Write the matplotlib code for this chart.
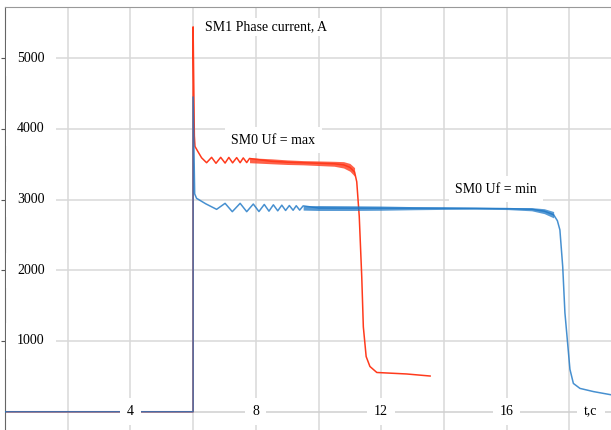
import matplotlib.pyplot as plt

plt.rcParams['font.family'] = ['Liberation Serif', 'DejaVu Serif']

# SM0 Uf = min (blue), time in s, current in A
blue_t = [0, 6.0, 6.0, 6.05, 6.11, 6.4, 6.75, 7.02, 7.25, 7.50, 7.71, 7.92, 8.10, 8.27, 8.42,
          8.56, 8.70, 8.83, 8.95, 9.07, 9.19, 9.29, 9.40, 9.51]
blue_i = [0, 0, 4450, 3080, 3017, 2940, 2861, 2946, 2828, 2946, 2828, 2936, 2830, 2930, 2835,
          2925, 2840, 2920, 2845, 2915, 2848, 2912, 2850, 2910]
blue_band_t = [9.51, 10.0, 11.0, 12.0, 13.0, 14.0, 15.0, 16.0, 16.8, 17.2, 17.5]
blue_band_hi = [2910, 2915, 2912, 2908, 2900, 2895, 2890, 2885, 2885, 2870, 2830]
blue_band_lo = [2850, 2845, 2845, 2848, 2855, 2860, 2862, 2858, 2840, 2800, 2740]
blue_tail_t = [17.5, 17.62, 17.7, 17.79, 17.86, 17.94, 18.02, 18.13, 18.34, 18.77, 19.33]
blue_tail_i = [2785, 2700, 2570, 2050, 1400, 1000, 600, 400, 330, 285, 240]

# SM0 Uf = max (red)
red_t = [0, 6.0, 6.0, 6.04, 6.06, 6.15, 6.27, 6.43, 6.59, 6.73, 6.88, 7.02, 7.14, 7.26, 7.39,
         7.5, 7.6, 7.71, 7.8]
red_i = [0, 0, 5440, 3900, 3750, 3680, 3590, 3520, 3596, 3512, 3596, 3515, 3595, 3518, 3592,
         3520, 3588, 3522, 3580]
red_band_t = [7.8, 8.5, 9.0, 9.5, 10.0, 10.5, 10.8, 11.0, 11.15]
red_band_hi = [3590, 3575, 3560, 3550, 3545, 3540, 3535, 3510, 3450]
red_band_lo = [3520, 3505, 3495, 3490, 3480, 3470, 3445, 3400, 3330]
red_tail_t = [11.15, 11.22, 11.30, 11.38, 11.43, 11.52, 11.64, 11.86, 12.81, 13.56]
red_tail_i = [3390, 3250, 2760, 1900, 1200, 780, 640, 555, 534, 505]

x_grid = [2, 4, 6, 8, 10, 12, 14, 16, 18]
x_labels = [4, 8, 12, 16]
y_ticks = [1000, 2000, 3000, 4000, 5000]

red = '#ff3a1c'
blue = '#1f78c6'

fig = plt.figure(figsize=(6.11, 4.30), dpi=100)
ax = fig.add_axes([5 / 611, 0, 606 / 611, 423 / 430])
ax.set_xlim(0, 19.33)
ax.set_ylim(-258, 5721)

ax.set_xticks(x_grid)
ax.set_yticks(y_ticks)
ax.tick_params(axis='x', length=0, labelbottom=False)
ax.tick_params(axis='y', length=3, width=0.8, color='#555555', labelleft=False)
ax.grid(True, color='#d9d9d9', linewidth=1.1)
ax.set_axisbelow(True)
for s in ['right', 'bottom']:
    ax.spines[s].set_visible(False)
ax.spines['left'].set_color('#666666')
ax.spines['top'].set_color('#999999')
ax.axhline(0, color='#cfcfcf', linewidth=1.1, zorder=1)

# red curve
red_mid = [(a + b) / 2 for a, b in zip(red_band_hi, red_band_lo)]
ax.plot(red_t + red_band_t[1:] + red_tail_t[1:], red_i + red_mid[1:] + red_tail_i[1:],
        color=red, linewidth=1.1, zorder=2)
ax.fill_between(red_band_t, red_band_lo, red_band_hi, color=red, linewidth=0, alpha=0.8, zorder=2)

# blue curve
blue_mid = [(a + b) / 2 for a, b in zip(blue_band_hi, blue_band_lo)]
ax.plot(blue_t + blue_band_t[1:] + blue_tail_t, blue_i + blue_mid[1:] + blue_tail_i,
        color=blue, linewidth=1.1, alpha=0.82, zorder=3)
ax.fill_between(blue_band_t, blue_band_lo, blue_band_hi, color=blue, linewidth=0, alpha=0.75, zorder=3)

box = dict(facecolor='white', edgecolor='none', pad=5)
for v in x_labels:
    ax.text(v, 0, str(v), ha='center', va='center', fontsize=10, bbox=box, zorder=5)
ax.text(18.69, 0, 't,c', ha='center', va='center', fontsize=10, bbox=box, zorder=5)
for v in y_ticks:
    ax.text(0.83, v, str(v), ha='center', va='center', fontsize=10,
            bbox=dict(facecolor='white', edgecolor='none', pad=8), zorder=5)

ax.text(6.38, 5440, 'SM1 Phase current, A', ha='left', va='center', fontsize=10,
        bbox=dict(facecolor='white', edgecolor='none', pad=2), zorder=5)
ax.text(8.56, 3841, 'SM0 Uf = max', ha='center', va='center', fontsize=10,
        bbox=dict(facecolor='white', edgecolor='none', pad=4.5), zorder=5)
ax.text(15.65, 3148, 'SM0 Uf = min', ha='center', va='center', fontsize=10,
        bbox=dict(facecolor='white', edgecolor='none', pad=4.5), zorder=5)

fig.savefig('out.png', dpi=100)
